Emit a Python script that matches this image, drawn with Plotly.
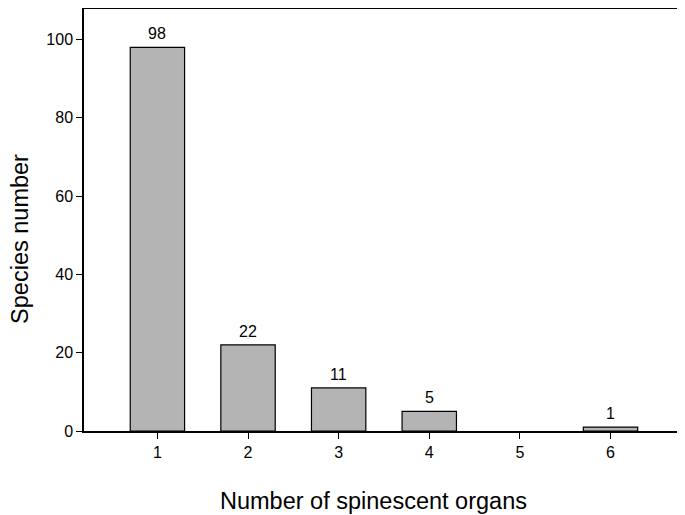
import plotly.graph_objects as go

# number of spinescent organs vs species count
organs = [1, 2, 3, 4, 5, 6]
species = [98, 22, 11, 5, 0, 1]
yticks = [0, 20, 40, 60, 80, 100]

fig = go.Figure(
    data=[
        go.Bar(
            x=organs, y=species, width=0.6,
            marker=dict(color="#b4b4b4",
                        line=dict(color="black", width=[1.2 if v > 0 else 0 for v in species])),
        )
    ]
)

# value labels above the bars (nothing for the empty class)
for xv, yv in zip(organs, species):
    if yv > 0:
        fig.add_annotation(x=xv, y=yv, text=str(yv), showarrow=False,
                           yanchor="bottom", yshift=3,
                           font=dict(size=16, color="black"))

axis_style = dict(
    showline=True, linecolor="black", linewidth=1.5, mirror=True,
    ticks="outside", ticklen=6, tickcolor="black", tickwidth=1.2,
    showgrid=False, zeroline=False, automargin=False,
    tickfont=dict(size=16, color="black"),
)

# the html page body adds an 8px offset, so the figure is sized a bit smaller
fig.update_layout(
    width=677, height=507,
    margin=dict(l=76, r=2, t=1, b=84),
    plot_bgcolor="white", paper_bgcolor="white",
    font=dict(family="Liberation Sans, Arial, sans-serif", color="black"),
    showlegend=False,
    xaxis=dict(range=[0.19, 6.8], tickvals=organs, **axis_style),
    yaxis=dict(range=[0, 107.8], tickvals=yticks, **axis_style),
)

# axis titles
fig.add_annotation(text="Number of spinescent organs", xref="paper", yref="paper",
                   x=0.484, y=-0.165, xanchor="center", yanchor="middle",
                   showarrow=False, font=dict(size=23.5))
fig.add_annotation(text="Species number", xref="paper", yref="paper",
                   x=-0.107, y=0.455, xanchor="center", yanchor="middle",
                   textangle=-90, showarrow=False, font=dict(size=23.5))

fig.write_html("out.html")
